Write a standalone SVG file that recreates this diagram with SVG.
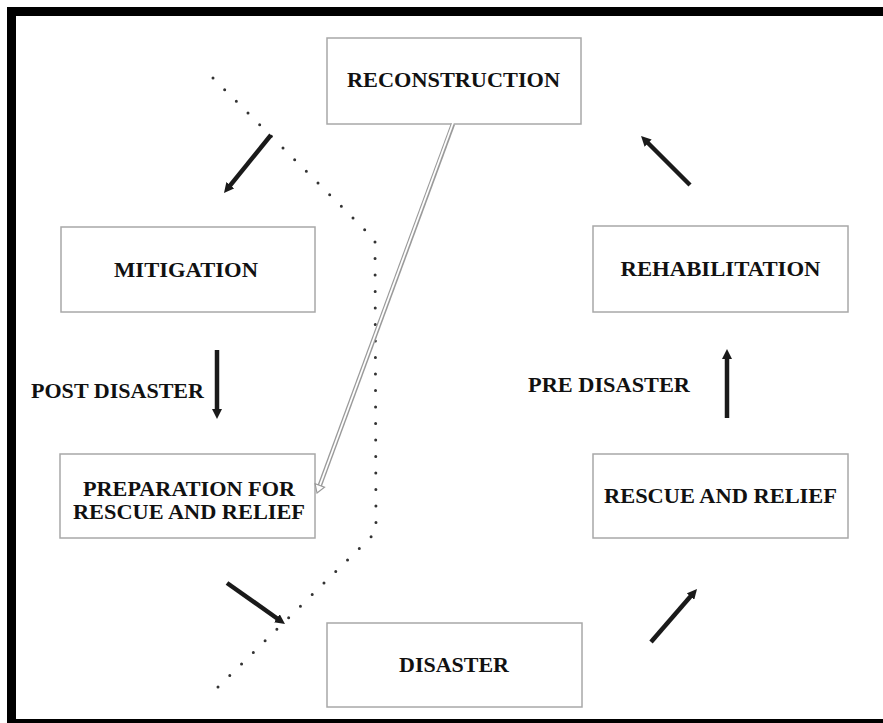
<svg xmlns="http://www.w3.org/2000/svg" width="883" height="723" viewBox="0 0 883 723">
<style>
.box{fill:#fff;stroke:#a8a8a8;stroke-width:1.5}
.lbl{font-family:"Liberation Serif","Times New Roman",serif;font-weight:bold;font-size:21px;fill:#111;text-anchor:middle}
.two{font-size:20px}
.side{font-family:"Liberation Serif","Times New Roman",serif;font-weight:bold;font-size:21px;fill:#111}
.arr{stroke:#1a1a1a;stroke-width:4.5;fill:none;marker-end:url(#ah)}
.dots{fill:none;stroke:#333;stroke-width:3;stroke-linecap:round;stroke-dasharray:0 16.5}
</style>
<defs>
<marker id="ah" viewBox="0 0 10 10" refX="3" refY="5" markerWidth="10" markerHeight="10" markerUnits="userSpaceOnUse" orient="auto">
<path d="M0,0 L10,5 L0,10 z" fill="#1a1a1a"/>
</marker>
</defs>
<rect x="0" y="0" width="883" height="723" fill="#fff"/>
<rect x="11.5" y="11.5" width="900" height="712" fill="none" stroke="#000" stroke-width="9"/>

<g id="reconstruction">
<rect class="box" x="327" y="38" width="254" height="86"/>
<text class="lbl" x="453.5" y="87" textLength="213" lengthAdjust="spacingAndGlyphs">RECONSTRUCTION</text>
</g>
<g id="mitigation">
<rect class="box" x="61" y="227" width="254" height="85"/>
<text class="lbl" x="186" y="277" textLength="144" lengthAdjust="spacingAndGlyphs">MITIGATION</text>
</g>
<g id="rehabilitation">
<rect class="box" x="593" y="226" width="255" height="86"/>
<text class="lbl" x="720.5" y="276" textLength="200" lengthAdjust="spacingAndGlyphs">REHABILITATION</text>
</g>
<g id="preparation">
<rect class="box" x="60" y="454" width="255" height="84"/>
<text class="lbl two" x="189" y="496" textLength="212" lengthAdjust="spacingAndGlyphs">PREPARATION FOR</text>
<text class="lbl two" x="189" y="519" textLength="232" lengthAdjust="spacingAndGlyphs">RESCUE AND RELIEF</text>
</g>
<g id="rescue">
<rect class="box" x="593" y="454" width="255" height="84"/>
<text class="lbl" x="720.5" y="503" textLength="233" lengthAdjust="spacingAndGlyphs">RESCUE AND RELIEF</text>
</g>
<g id="disaster">
<rect class="box" x="327" y="623" width="255" height="84"/>
<text class="lbl" x="454" y="672" textLength="110" lengthAdjust="spacingAndGlyphs">DISASTER</text>
</g>
<g id="labels">
<text class="side" x="31" y="398" textLength="173" lengthAdjust="spacingAndGlyphs">POST DISASTER</text>
<text class="side" x="528" y="392" textLength="162" lengthAdjust="spacingAndGlyphs">PRE DISASTER</text>
</g>

<g id="connectors">
<path class="dots" d="M213,78 L375,240 L376,532 L213,692"/>
<line class="arr" x1="271" y1="135" x2="228.4" y2="187.6"/>
<line class="arr" x1="217" y1="350" x2="217" y2="412"/>
<line class="arr" x1="227" y1="583" x2="279.3" y2="620"/>
<line class="arr" x1="651" y1="642" x2="692.4" y2="594.3"/>
<line class="arr" x1="727" y1="418" x2="727" y2="356"/>
<line class="arr" x1="690" y1="185" x2="646" y2="141"/>
<g id="double-arrow">
<line x1="453" y1="124" x2="319.8" y2="485.5" stroke="#9a9a9a" stroke-width="4.5"/>
<line x1="453" y1="123" x2="319.8" y2="485.5" stroke="#fff" stroke-width="1.8"/>
<polygon points="317,493 324.5,487.2 315.1,483.8" fill="#fff" stroke="#9a9a9a" stroke-width="1.2"/>
</g>
</g>
</svg>
